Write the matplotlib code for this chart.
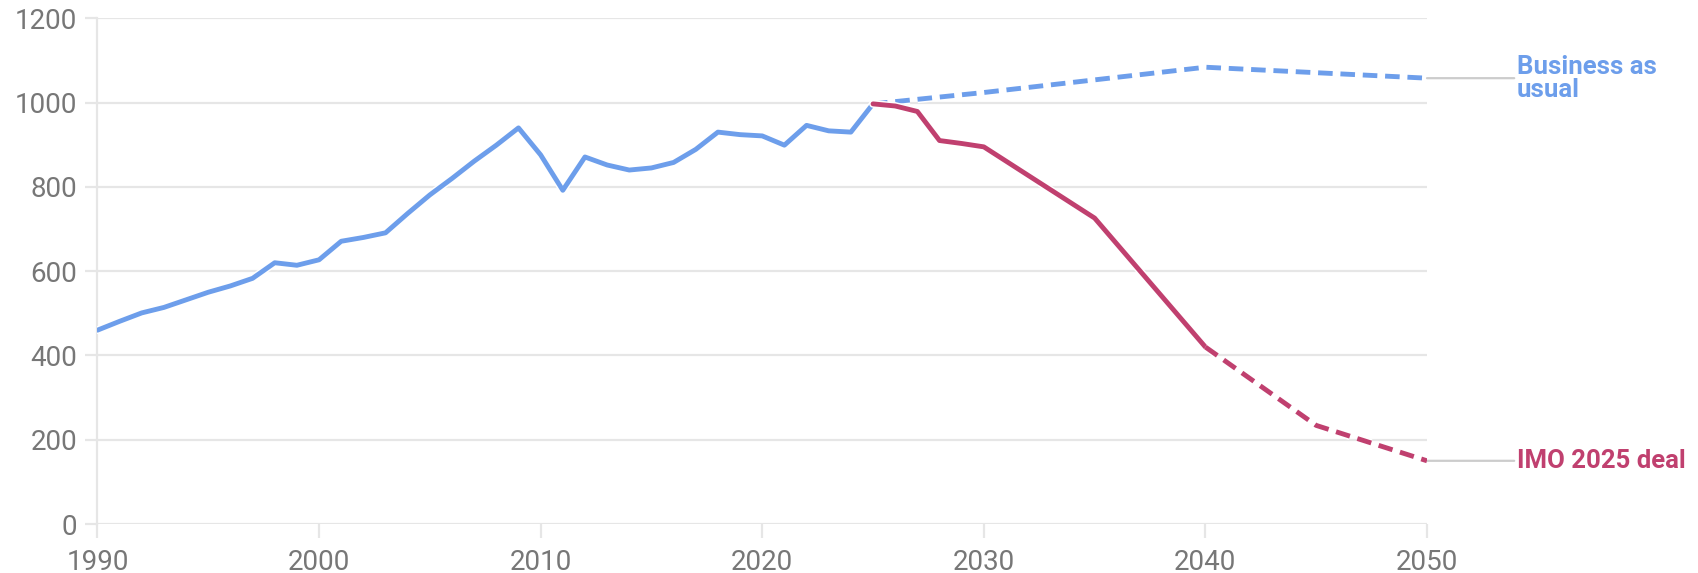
import matplotlib
matplotlib.use("Agg")
import matplotlib.pyplot as plt
import matplotlib.patheffects as pe

plt.rcParams["font.family"] = ["Roboto", "DejaVu Sans"]

# historical emissions (1990-2025)
hist_years = list(range(1990, 2026))
hist_values = [460, 481, 501, 514, 532, 550, 565, 583, 620, 614,
               627, 671, 680, 691, 737, 781, 820, 861, 899, 940,
               876, 792, 871, 852, 840, 845, 858, 889, 930, 924,
               921, 899, 946, 933, 930, 997]

# business as usual projection
bau_years = [2025, 2030, 2035, 2040, 2045, 2050]
bau_values = [997, 1024, 1054, 1084, 1071, 1058]

# IMO 2025 deal: solid to 2040, dashed after
imo_years = [2025, 2026, 2027, 2028, 2029, 2030, 2035, 2040]
imo_values = [997, 992, 979, 910, 903, 895, 726, 420]
imo_tail_years = [2040, 2045, 2050]
imo_tail_values = [420, 234, 150]

x_ticks = [1990, 2000, 2010, 2020, 2030, 2040, 2050]
y_ticks = [0, 200, 400, 600, 800, 1000, 1200]

blue = "#6d9eeb"
pink = "#c0406f"
grid = "#e6e6e6"
tick_text = "#777777"

fig = plt.figure(figsize=(16.98, 5.73), dpi=100)
ax = fig.add_axes([0.0574, 0.0855, 0.7830, 0.8825])

halo = [pe.Stroke(linewidth=5.6, foreground="white"), pe.Normal()]
lw = 3.5

ax.plot(hist_years, hist_values, color=blue, lw=lw, solid_joinstyle="round",
        solid_capstyle="round", path_effects=halo, zorder=3)
ax.plot(bau_years, bau_values, color=blue, lw=lw, dashes=(3.0, 1.6),
        path_effects=halo, zorder=3)
ax.plot(imo_years, imo_values, color=pink, lw=lw, solid_joinstyle="round",
        solid_capstyle="round", path_effects=halo, zorder=4)
ax.plot(imo_tail_years, imo_tail_values, color=pink, lw=lw, dashes=(3.0, 1.6),
        path_effects=halo, zorder=4)

ax.set_xlim(1990, 2050)
ax.set_ylim(0, 1200)
ax.set_xticks(x_ticks)
ax.set_yticks(y_ticks)
ax.grid(axis="y", color=grid, lw=1.6)
ax.set_axisbelow(True)
for s in ["top", "right", "bottom"]:
    ax.spines[s].set_visible(False)
ax.spines["left"].set_color(grid)
ax.spines["left"].set_linewidth(1.6)
ax.tick_params(axis="both", colors=grid, labelcolor=tick_text, labelsize=20, width=1.6)
ax.tick_params(axis="x", length=10, pad=8)
ax.tick_params(axis="y", length=8.6, pad=6)

# end labels with connector lines
labels = [("Business as\nusual", bau_values[-1], blue),
          ("IMO 2025 deal", imo_tail_values[-1], pink)]
for text, val, col in labels:
    ax.annotate(text, xy=(2050, val), xytext=(90, 0), textcoords="offset pixels",
                ha="left", va="center", color=col, fontsize=18.5, fontweight="bold",
                linespacing=0.95, annotation_clip=False,
                arrowprops=dict(arrowstyle="-", color="#cccccc", lw=1.6,
                                shrinkA=0, shrinkB=0))

fig.savefig("out.png", dpi=100)
